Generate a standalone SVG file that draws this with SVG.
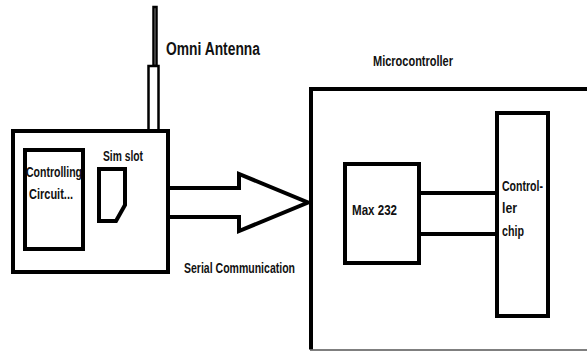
<svg xmlns="http://www.w3.org/2000/svg" width="587" height="351" viewBox="0 0 587 351">
<style>
.b{fill:#fff;stroke:#000;stroke-width:4}
.t{font-family:"Liberation Sans",Arial,sans-serif;font-weight:bold;fill:#111}
.c{fill:none;stroke:#000;stroke-width:4}
</style>
<rect width="587" height="351" fill="#fff"/>
<g id="antenna">
<rect x="153.5" y="7" width="3" height="59" fill="#fff" stroke="#000" stroke-width="2.5"/>
<rect x="148.5" y="66" width="10" height="66" fill="#fff" stroke="#000" stroke-width="2.5"/>
<text class="t" x="166" y="55" font-size="17.5" textLength="94" lengthAdjust="spacingAndGlyphs">Omni Antenna</text>
</g>
<g id="device">
<rect class="b" x="13" y="131" width="155" height="141"/>
</g>
<g id="controlling">
<rect class="b" x="25" y="150" width="58" height="99"/>
<text class="t" x="26" y="177" font-size="15" textLength="56" lengthAdjust="spacingAndGlyphs">Controlling</text>
<text class="t" x="29" y="199" font-size="15" textLength="44" lengthAdjust="spacingAndGlyphs">Circuit...</text>
</g>
<g id="simslot">
<path class="b" d="M99 169 H125 V205 L116 221 H99 Z" stroke-width="3.5"/>
<text class="t" x="103" y="161" font-size="14" textLength="40" lengthAdjust="spacingAndGlyphs">Sim slot</text>
</g>
<g id="microcontroller">
<path d="M311 349.5 V89 H587" fill="none" stroke="#000" stroke-width="4"/>
<path d="M310 350 H587" fill="none" stroke="#555" stroke-width="1.5"/>
<text class="t" x="373" y="66" font-size="14" textLength="80" lengthAdjust="spacingAndGlyphs">Microcontroller</text>
</g>
<g id="max232">
<rect class="b" x="345" y="164" width="74" height="99"/>
<text class="t" x="352" y="215" font-size="15" textLength="45" lengthAdjust="spacingAndGlyphs">Max 232</text>
</g>
<g id="chip">
<rect class="b" x="497" y="113" width="51" height="203"/>
<text class="t" x="502" y="191" font-size="15" textLength="41" lengthAdjust="spacingAndGlyphs">Control-</text>
<text class="t" x="502" y="213" font-size="15" textLength="15" lengthAdjust="spacingAndGlyphs">ler</text>
<text class="t" x="502" y="236" font-size="15" textLength="22" lengthAdjust="spacingAndGlyphs">chip</text>
</g>
<g id="connectors">
<path class="c" d="M168 188 H239 V174 L308 202.5 L239 231 V217 H168" stroke-linejoin="miter"/>
<path class="c" d="M419 193 H497 M419 234 H497"/>
<text class="t" x="184" y="273" font-size="14" textLength="111" lengthAdjust="spacingAndGlyphs">Serial Communication</text>
</g>
</svg>
